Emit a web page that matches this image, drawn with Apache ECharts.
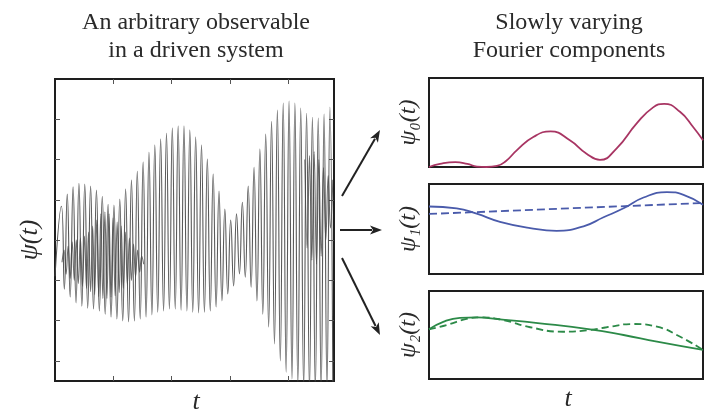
<!DOCTYPE html>
<html>
<head>
<meta charset="utf-8">
<script src="https://cdn.jsdelivr.net/npm/echarts@6/dist/echarts.min.js"></script>
<style>html,body{margin:0;padding:0;background:#fff}#c{width:704px;height:413px}</style>
</head>
<body>
<div id="c"></div>
<script>
// ---- text ----
const leftTitle = ['An arbitrary observable', 'in a driven system'];
const rightTitle = ['Slowly varying', 'Fourier components'];
const leftYName = 'ψ(t)';
const rightYNames = ['ψ₀(t)', 'ψ₁(t)', 'ψ₂(t)'];
const xName = 't';

// ---- left panel: observable psi(t) (peaks / troughs) ----
const leftTicksX = [1, 2, 3, 4];
const leftTicksY = [-3, -2, -1, 0, 1, 2, 3];
const waveTime = [0, 0.11, 0.16, 0.21, 0.26, 0.31, 0.36, 0.41, 0.46, 0.51, 0.56, 0.61, 0.66, 0.71, 0.76, 0.81, 0.86, 0.91, 0.96,
  1.01, 1.06, 1.11, 1.16, 1.21, 1.26, 1.31, 1.36, 1.41, 1.46, 1.51, 1.56, 1.61, 1.66, 1.71, 1.76, 1.81, 1.86, 1.91, 1.96,
  2.01, 2.06, 2.11, 2.16, 2.21, 2.26, 2.31, 2.36, 2.41, 2.46, 2.51, 2.56, 2.61, 2.66, 2.71, 2.76, 2.81, 2.86, 2.91, 2.96,
  3.01, 3.06, 3.11, 3.16, 3.21, 3.26, 3.31, 3.36, 3.41, 3.46, 3.51, 3.56, 3.61, 3.66, 3.71, 3.76, 3.81, 3.86, 3.91, 3.96,
  4.01, 4.06, 4.11, 4.16, 4.21, 4.26, 4.31, 4.36, 4.41, 4.46, 4.51, 4.56, 4.61, 4.66, 4.71, 4.76];
const waveValue = [-0.9,
  0.84, -1.22, 1.14, -1.41, 1.32, -1.56, 1.41, -1.64, 1.39, -1.69, 1.34, -1.71, 1.24, -1.76, 1.09, -1.84, 0.89, -1.91, 0.87, -1.96,
  1.02, -2.01, 1.27, -2.03, 1.49, -2.01, 1.71, -1.96, 1.94, -1.91, 2.18, -1.86, 2.36, -1.79, 2.51, -1.76, 2.65, -1.71, 2.78, -1.71,
  2.83, -1.74, 2.83, -1.76, 2.73, -1.79, 2.56, -1.81, 2.36, -1.79, 2.01, -1.76, 1.64, -1.66, 1.22, -1.51, 0.77, -1.34, 0.50, -1.14,
  0.65, -0.84, 0.94, -0.92, 1.34, -1.17, 1.81, -1.51, 2.26, -1.84, 2.63, -2.16, 2.95, -2.58, 3.23, -3.00, 3.40, -3.28, 3.45, -3.45,
  3.40, -3.57, 3.28, -3.65, 3.15, -3.70, 3.05, -3.70, 3.03, -3.70, 3.13, -3.65, 3.30, -3.57];
// faster overlapping component (darker diamond on the left, darker patch on the right)
const overlayLeftTime = [0.12, 0.155, 0.19, 0.225, 0.26, 0.295, 0.33, 0.365, 0.40, 0.435, 0.47, 0.505, 0.54, 0.575, 0.61, 0.645,
  0.68, 0.715, 0.75, 0.785, 0.82, 0.855, 0.89, 0.925, 0.96, 0.995, 1.03, 1.065, 1.10, 1.135, 1.17, 1.205, 1.24, 1.275, 1.31,
  1.345, 1.38, 1.415, 1.45, 1.485, 1.52];
const overlayLeftValue = [-0.55, -0.25, -0.85, -0.15, -0.95, -0.05, -1.0, 0.0, -1.08, 0.05, -1.15, 0.1, -1.2, 0.2, -1.28, 0.35,
  -1.35, 0.5, -1.4, 0.65, -1.45, 0.7, -1.45, 0.65, -1.42, 0.55, -1.38, 0.45, -1.3, 0.35, -1.2, 0.2, -1.1, 0.05, -1.0,
  -0.1, -0.9, -0.25, -0.8, -0.4, -0.6];
const overlayRightTime = [4.28, 4.32, 4.36, 4.40, 4.44, 4.48, 4.52, 4.56, 4.60, 4.64, 4.68, 4.72, 4.76];
const overlayRightValue = [2.0, -0.2, 2.1, -0.5, 2.2, -0.6, 2.0, -0.4, 1.8, 0.0, 1.6, 0.3, 1.5];

// ---- right panels: slowly varying Fourier components ----
const psi0Time = [0, 4, 9.6, 14, 17.5, 21, 24.8, 28, 32.1, 38.2, 44.4, 51.4, 57.5, 62.4, 68.5, 75.8, 81.8, 85.8, 91.6, 96.4, 100];
const psi0Value = [0, 0.035, 0.055, 0.035, 0.005, 0, 0.012, 0.065, 0.19, 0.34, 0.40, 0.30, 0.15, 0.08, 0.21, 0.49, 0.67, 0.71, 0.62, 0.45, 0.30];
const psi1Time = [0, 10.1, 17.4, 25.9, 36.9, 46.6, 56.4, 63.7, 71.0, 78.3, 86.8, 92.9, 100];
const psi1Value = [0.75, 0.73, 0.67, 0.58, 0.51, 0.48, 0.53, 0.63, 0.73, 0.85, 0.91, 0.88, 0.77];
const psi1DashTime = [0, 100];
const psi1DashValue = [0.667, 0.789];
const psi2Time = [0, 5.2, 11.3, 17.4, 25.9, 40.5, 58.8, 71.0, 83.2, 100];
const psi2Value = [0.565, 0.65, 0.695, 0.70, 0.678, 0.633, 0.565, 0.50, 0.424, 0.33];
const psi2DashTime = [0, 6.5, 13.7, 18.6, 27.1, 36.9, 49.0, 58.8, 64.8, 74.6, 83.2, 91.7, 100];
const psi2DashValue = [0.565, 0.614, 0.682, 0.70, 0.67, 0.588, 0.537, 0.557, 0.588, 0.625, 0.594, 0.48, 0.33];

const pair = (ts, vs) => ts.map((t, i) => [t, vs[i]]);

const serif = '"Liberation Serif", "DejaVu Serif", serif';
const frame = '#1e1e1e';
const colPsi0 = '#a83563', colPsi1 = '#4a5bab', colPsi2 = '#2c8a48';

const chart = echarts.init(document.getElementById('c'), null, {renderer: 'canvas'});

const rightGrids = [
  {left: 429, top: 78, width: 274, height: 89},
  {left: 429, top: 184, width: 274, height: 90},
  {left: 429, top: 291, width: 274, height: 88}
];
const grids = [{left: 55, top: 79, width: 279, height: 302}].concat(rightGrids).map(g => Object.assign({
  show: true, borderColor: frame, borderWidth: 2, backgroundColor: 'transparent', containLabel: false
}, g));

const tickStyle = {show: true, inside: true, length: 5, lineStyle: {color: '#555', width: 1}};
const noLine = {show: false, onZero: false};
const xAxes = [
  {gridIndex: 0, type: 'value', min: 0, max: 4.78, position: 'bottom', axisLine: noLine,
   axisTick: Object.assign({customValues: leftTicksX}, tickStyle), axisLabel: {show: false}, splitLine: {show: false}},
  {gridIndex: 0, type: 'value', min: 0, max: 4.78, position: 'top', axisLine: noLine,
   axisTick: Object.assign({customValues: leftTicksX}, tickStyle), axisLabel: {show: false}, splitLine: {show: false}}
];
const yAxes = [
  {gridIndex: 0, type: 'value', min: -3.5, max: 4, position: 'left', axisLine: noLine,
   axisTick: Object.assign({customValues: leftTicksY}, tickStyle), axisLabel: {show: false}, splitLine: {show: false}},
  {gridIndex: 0, type: 'value', min: -3.5, max: 4, position: 'right', axisLine: noLine,
   axisTick: Object.assign({customValues: leftTicksY}, tickStyle), axisLabel: {show: false}, splitLine: {show: false}}
];
for (let i = 1; i <= 3; i++) {
  xAxes.push({gridIndex: i, type: 'value', min: 0, max: 100, show: false, axisLine: noLine});
  yAxes.push({gridIndex: i, type: 'value', min: 0, max: 1, show: false, axisLine: noLine});
}
// axis index of right panel i (0..2) is i + 2

function lineSeries(ai, data, color, width, extra) {
  return Object.assign({
    type: 'line', xAxisIndex: ai, yAxisIndex: ai, data: data, showSymbol: false, symbol: 'none',
    smooth: true, clip: true, silent: true, animation: false,
    lineStyle: {color: color, width: width}
  }, extra || {});
}

const series = [
  lineSeries(0, pair(overlayLeftTime, overlayLeftValue), '#555', 1, {smooth: 0.4, lineStyle: {color: '#333', width: 1.1, opacity: 0.7}}),
  lineSeries(0, pair(overlayRightTime, overlayRightValue), '#555', 1, {smooth: 0.4, lineStyle: {color: '#222', width: 1.1, opacity: 0.65}}),
  lineSeries(0, pair(waveTime, waveValue), '#333', 1.3, {smooth: 0.5, lineStyle: {color: '#474747', width: 1.1, opacity: 0.9}}),
  lineSeries(2, pair(psi0Time, psi0Value), colPsi0, 1.8),
  lineSeries(3, pair(psi1DashTime, psi1DashValue), colPsi1, 1.8, {smooth: false, lineStyle: {color: colPsi1, width: 1.8, type: [8, 4]}}),
  lineSeries(3, pair(psi1Time, psi1Value), colPsi1, 1.8),
  lineSeries(4, pair(psi2DashTime, psi2DashValue), colPsi2, 1.8, {lineStyle: {color: colPsi2, width: 1.8, type: [7, 4]}}),
  lineSeries(4, pair(psi2Time, psi2Value), colPsi2, 1.8)
];

// arrows between the panels (decoration)
function arrow(x1, y1, x2, y2) {
  const a = Math.atan2(y2 - y1, x2 - x1), L = 12, W = 4.5;
  const bx = x2 - L * Math.cos(a), by = y2 - L * Math.sin(a);
  const nx = -Math.sin(a), ny = Math.cos(a);
  return [
    {type: 'line', shape: {x1: x1, y1: y1, x2: bx + 2 * Math.cos(a), y2: by + 2 * Math.sin(a)}, style: {stroke: '#222', lineWidth: 2}, silent: true},
    {type: 'polygon', shape: {points: [[x2, y2], [bx + W * nx, by + W * ny], [bx + 3 * Math.cos(a), by + 3 * Math.sin(a)], [bx - W * nx, by - W * ny]]},
     style: {fill: '#222'}, silent: true}
  ];
}

const textEl = (x, y, text, font, extra) => Object.assign({
  type: 'text', x: x, y: y, silent: true,
  style: {text: text, font: font, fill: '#2a2a2a', align: 'center', verticalAlign: 'middle', lineHeight: 28}
}, extra || {});

const graphics = [
  textEl(196, 37, leftTitle.join('\n'), '24px ' + serif),
  textEl(569, 37, rightTitle.join('\n'), '24px ' + serif),
  textEl(30, 240, leftYName, 'italic 26px ' + serif, {rotation: Math.PI / 2}),
  textEl(196, 402, xName, 'italic 26px ' + serif),
  textEl(568, 399, xName, 'italic 26px ' + serif)
];
rightGrids.forEach((g, i) => {
  graphics.push(textEl(409, g.top + g.height / 2, rightYNames[i], 'italic 24px ' + serif, {rotation: Math.PI / 2}));
});
[].push.apply(graphics, arrow(342, 196, 380, 130));
[].push.apply(graphics, arrow(340, 230, 382, 230));
[].push.apply(graphics, arrow(342, 258, 380, 335));

chart.setOption({
  animation: false,
  backgroundColor: '#fff',
  grid: grids,
  xAxis: xAxes,
  yAxis: yAxes,
  series: series,
  graphic: graphics
});
</script>
</body>
</html>
